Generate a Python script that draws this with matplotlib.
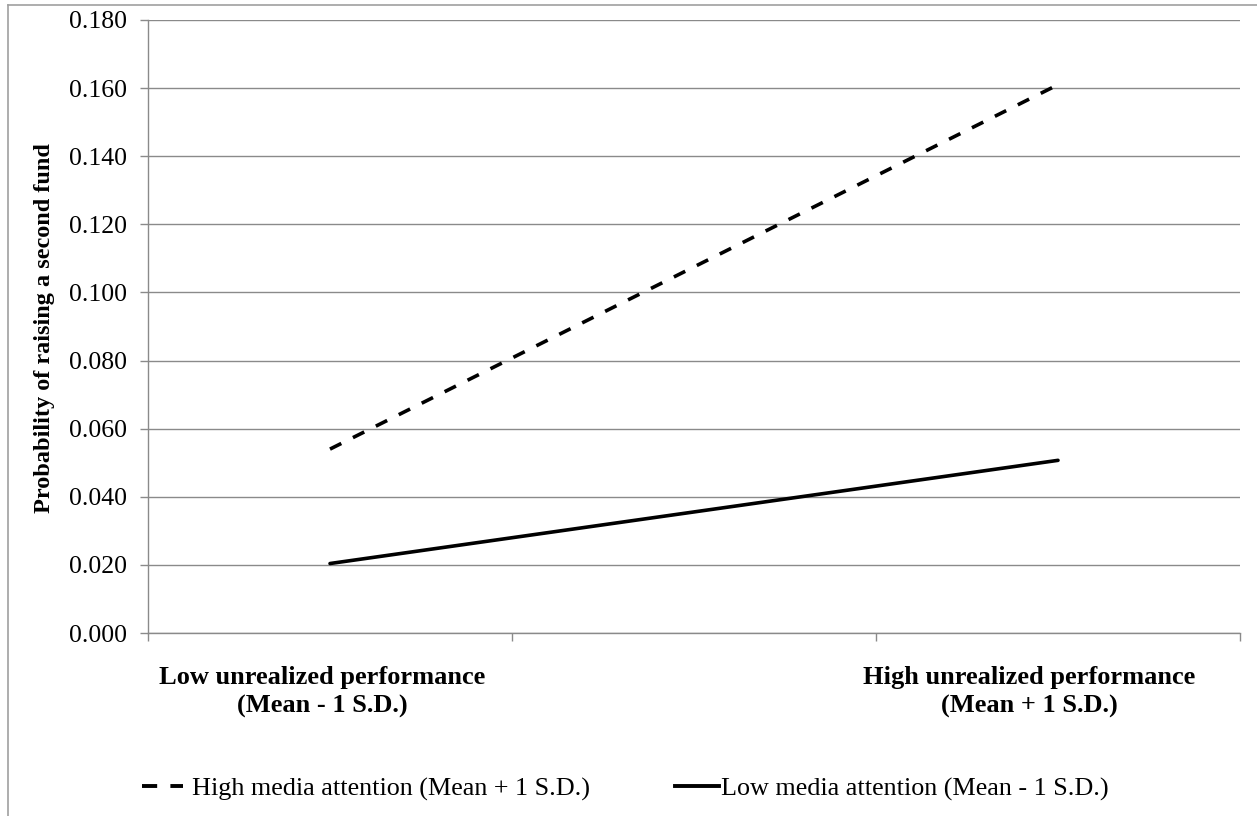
import matplotlib
matplotlib.use("Agg")
import matplotlib.pyplot as plt
from matplotlib.lines import Line2D
from matplotlib.transforms import ScaledTranslation

categories = ["Low unrealized performance\n(Mean - 1 S.D.)", "",
              "High unrealized performance\n(Mean + 1 S.D.)"]
point_cats = [0, 2]
high_media = [0.054, 0.161]
low_media = [0.0204, 0.0507]
series_names = ["High media attention (Mean + 1 S.D.)",
                "Low media attention (Mean - 1 S.D.)"]
yticks = [0.000, 0.020, 0.040, 0.060, 0.080, 0.100, 0.120, 0.140, 0.160, 0.180]
ylabel = "Probability of raising a second fund"

plt.rcParams['font.family'] = ['Liberation Serif', 'DejaVu Serif']

W, H = 1257, 816
fig = plt.figure(figsize=(W / 100, H / 100), dpi=100)
ax = fig.add_axes([148 / W, 1 - 633 / H, (1240 - 148) / W, (633 - 20) / H])

gray = '#8a8a8a'
ax.plot(point_cats, high_media, color='black', lw=2.6, dashes=(3.5, 3.6),
        dash_capstyle='butt', solid_capstyle='round')
ax.plot(point_cats, low_media, color='black', lw=2.6, solid_capstyle='round')

ax.set_xlim(-0.5, len(categories) - 0.5)
ax.set_ylim(0, 0.18)
ax.set_yticks(yticks)
ax.set_yticklabels([f"{v:.3f}" for v in yticks])
ax.yaxis.grid(True, color=gray, lw=1.0)
ax.set_axisbelow(True)

ax.set_xticks(range(len(categories)))
ax.set_xticklabels(categories, fontweight='bold', fontsize=19, linespacing=1.3)
ax.set_xticks([i - 0.5 for i in range(len(categories) + 1)], minor=True)
ax.tick_params(axis='x', which='major', length=0, pad=24)
ax.tick_params(axis='x', which='minor', length=6, color=gray, width=1)
ax.tick_params(axis='y', length=6, color=gray, width=1, labelsize=18.5, pad=9)

# Excel nudges the outer category labels inward to fit the chart area
shifts_px = [-8, 0, -29]
for lbl, dx in zip(ax.get_xticklabels(), shifts_px):
    lbl.set_transform(lbl.get_transform() + ScaledTranslation(dx / 100, 0, fig.dpi_scale_trans))

for s in ['top', 'right']:
    ax.spines[s].set_visible(False)
for s in ['left', 'bottom']:
    ax.spines[s].set_color(gray)
    ax.spines[s].set_linewidth(1.0)

fig.text(45 / W, 1 - 328 / H, ylabel, rotation=90, ha='center', va='center',
         fontsize=17.5, fontweight='bold')

fs = 18.8
h1 = Line2D([], [], color='black', lw=2.8, dashes=(3.9, 3.4), dash_capstyle='butt')
h2 = Line2D([], [], color='black', lw=2.8)
leg1 = fig.legend([h1], [series_names[0]], loc='center left', frameon=False,
                  bbox_to_anchor=(142 / W, 1 - 789 / H), borderpad=0, borderaxespad=0,
                  fontsize=fs, handlelength=1.57, handletextpad=0.35)
leg2 = fig.legend([h2], [series_names[1]], loc='center left', frameon=False,
                  bbox_to_anchor=(675 / W, 1 - 789 / H), borderpad=0, borderaxespad=0,
                  fontsize=fs, handlelength=1.68, handletextpad=0.08)

border = '#a0a0a0'
fig.add_artist(Line2D([8 / W, 1], [1 - 5 / H, 1 - 5 / H], color=border, lw=1.2,
                      transform=fig.transFigure))
fig.add_artist(Line2D([8 / W, 8 / W], [0, 1 - 5 / H], color=border, lw=1.2,
                      transform=fig.transFigure))

fig.savefig("out.png", dpi=100)
